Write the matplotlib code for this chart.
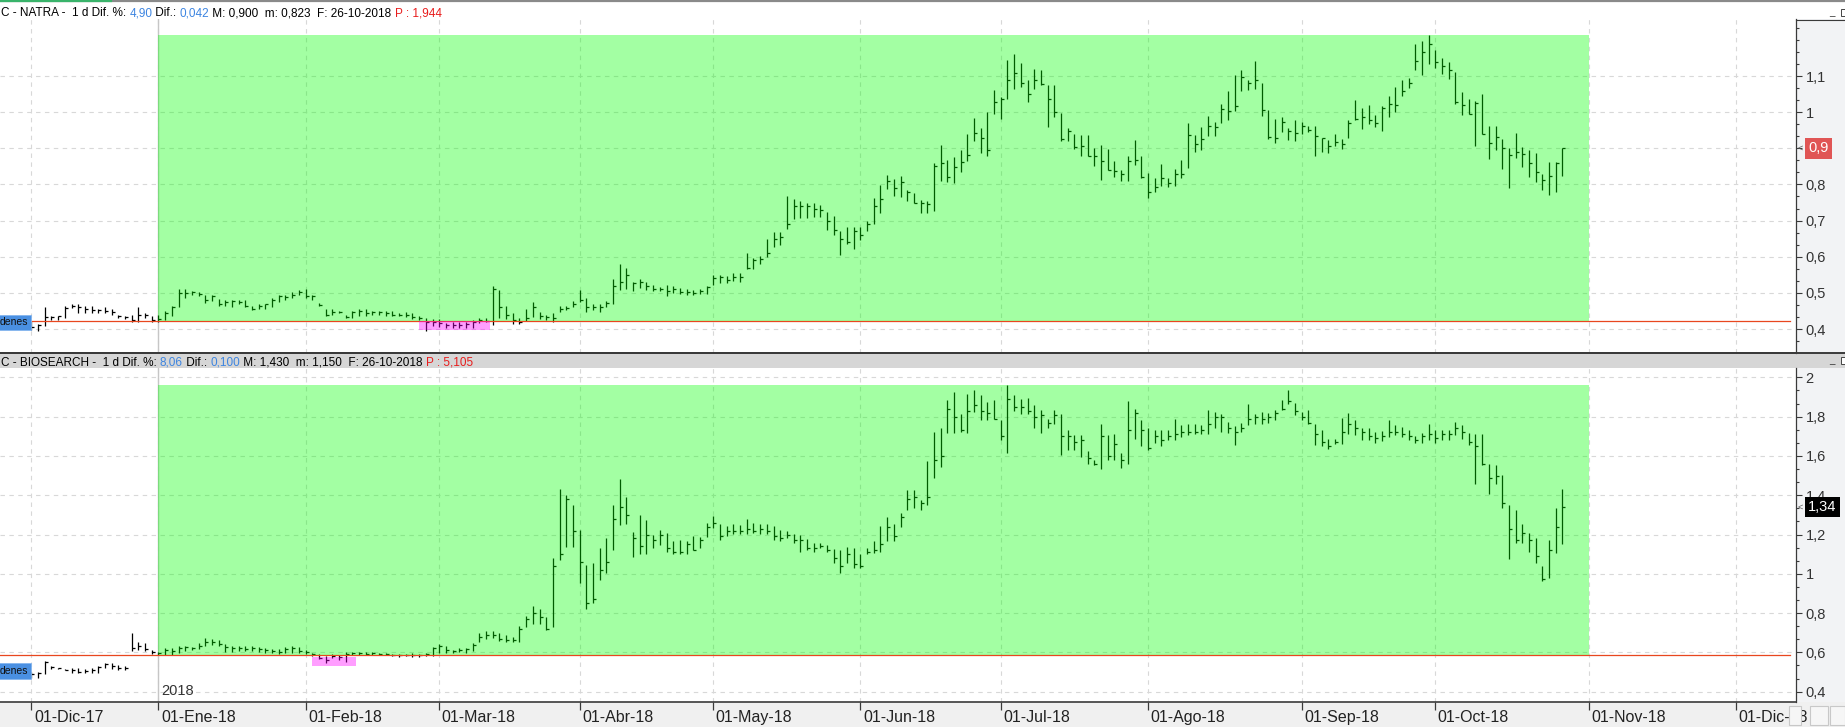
import numpy as np
import pandas as pd
import matplotlib
matplotlib.use("Agg")
import matplotlib.pyplot as plt
import matplotlib.transforms as mtransforms
from matplotlib.patches import Rectangle
from matplotlib.lines import Line2D
from matplotlib.collections import LineCollection
from matplotlib.ticker import FuncFormatter

plt.rcParams["font.family"] = ["Liberation Sans", "DejaVu Sans"]

W, H = 1845, 727

# BME sessions, holidays removed
holidays = ["2017-12-25", "2017-12-26", "2018-01-01", "2018-03-30",
            "2018-04-02", "2018-05-01", "2018-12-25", "2018-12-26"]
sessions = pd.date_range("2017-12-01", "2018-12-31",
                         freq=pd.offsets.CustomBusinessDay(holidays=holidays))

month_abbr = ["Ene", "Feb", "Mar", "Abr", "May", "Jun",
              "Jul", "Ago", "Sep", "Oct", "Nov", "Dic"]

# --- NATRA daily bars (01-12-2017 .. 26-10-2018) ---
natra_high = [
    0.421, 0.414, 0.461, 0.437, 0.437, 0.463, 0.470, 0.468, 0.463, 0.463,
    0.456, 0.461, 0.454, 0.440, 0.437, 0.440, 0.461, 0.444, 0.437, 0.440,
    0.451, 0.465, 0.511, 0.511, 0.506, 0.502, 0.495, 0.495, 0.483, 0.481,
    0.480, 0.480, 0.480, 0.465, 0.470, 0.470, 0.486, 0.495, 0.495, 0.502,
    0.509, 0.511, 0.495, 0.472, 0.454, 0.456, 0.451, 0.440, 0.451, 0.454,
    0.456, 0.449, 0.451, 0.451, 0.451, 0.443, 0.446, 0.443, 0.437, 0.431,
    0.428, 0.428, 0.417, 0.419, 0.419, 0.419, 0.424, 0.431, 0.431, 0.520,
    0.509, 0.463, 0.444, 0.431, 0.456, 0.474, 0.446, 0.439, 0.444, 0.463,
    0.463, 0.477, 0.509, 0.486, 0.470, 0.470, 0.477, 0.539, 0.581, 0.569,
    0.531, 0.539, 0.531, 0.523, 0.517, 0.521, 0.519, 0.514, 0.511, 0.507,
    0.511, 0.520, 0.549, 0.549, 0.548, 0.556, 0.554, 0.611, 0.597, 0.602,
    0.650, 0.669, 0.669, 0.769, 0.759, 0.753, 0.750, 0.750, 0.743, 0.724,
    0.713, 0.671, 0.681, 0.681, 0.683, 0.699, 0.762, 0.799, 0.826, 0.815,
    0.822, 0.786, 0.775, 0.756, 0.755, 0.859, 0.910, 0.869, 0.877, 0.894,
    0.940, 0.984, 0.956, 1.001, 1.060, 1.042, 1.145, 1.162, 1.137, 1.088,
    1.120, 1.118, 1.076, 1.074, 0.997, 0.956, 0.940, 0.937, 0.937, 0.901,
    0.910, 0.898, 0.866, 0.840, 0.880, 0.924, 0.880, 0.831, 0.819, 0.856,
    0.818, 0.844, 0.869, 0.971, 0.937, 0.960, 0.990, 0.972, 1.023, 1.059,
    1.102, 1.118, 1.090, 1.141, 1.081, 1.006, 0.980, 0.986, 0.955, 0.979,
    0.972, 0.963, 0.963, 0.929, 0.924, 0.940, 0.926, 0.979, 1.034, 1.011,
    1.021, 0.991, 1.016, 1.046, 1.071, 1.088, 1.095, 1.190, 1.196, 1.214,
    1.173, 1.151, 1.139, 1.111, 1.056, 1.037, 1.032, 1.051, 0.963, 0.963,
    0.925, 0.900, 0.941, 0.904, 0.895, 0.888, 0.830, 0.861, 0.861, 0.900,
]
natra_low = [
    0.398, 0.394, 0.407, 0.424, 0.424, 0.431, 0.457, 0.444, 0.444, 0.444,
    0.444, 0.444, 0.440, 0.431, 0.428, 0.419, 0.419, 0.431, 0.419, 0.419,
    0.424, 0.437, 0.461, 0.486, 0.494, 0.491, 0.472, 0.477, 0.465, 0.463,
    0.461, 0.468, 0.461, 0.452, 0.456, 0.456, 0.461, 0.474, 0.481, 0.486,
    0.493, 0.486, 0.481, 0.465, 0.437, 0.440, 0.443, 0.431, 0.431, 0.437,
    0.437, 0.440, 0.440, 0.437, 0.437, 0.437, 0.433, 0.428, 0.426, 0.394,
    0.407, 0.406, 0.403, 0.403, 0.403, 0.403, 0.403, 0.417, 0.419, 0.412,
    0.431, 0.428, 0.415, 0.415, 0.421, 0.433, 0.428, 0.426, 0.419, 0.446,
    0.452, 0.460, 0.474, 0.446, 0.452, 0.446, 0.460, 0.468, 0.507, 0.511,
    0.505, 0.514, 0.507, 0.505, 0.505, 0.491, 0.500, 0.498, 0.495, 0.495,
    0.498, 0.498, 0.521, 0.526, 0.526, 0.532, 0.530, 0.565, 0.567, 0.579,
    0.600, 0.628, 0.632, 0.676, 0.704, 0.706, 0.708, 0.711, 0.711, 0.674,
    0.660, 0.606, 0.634, 0.620, 0.646, 0.671, 0.690, 0.720, 0.787, 0.769,
    0.765, 0.755, 0.750, 0.722, 0.722, 0.727, 0.810, 0.808, 0.803, 0.835,
    0.864, 0.921, 0.886, 0.880, 0.994, 0.981, 1.037, 1.065, 1.069, 1.028,
    1.065, 1.074, 0.960, 0.988, 0.919, 0.921, 0.898, 0.879, 0.879, 0.850,
    0.812, 0.840, 0.821, 0.810, 0.810, 0.855, 0.818, 0.762, 0.778, 0.797,
    0.792, 0.795, 0.818, 0.845, 0.889, 0.895, 0.933, 0.933, 0.969, 0.977,
    1.002, 1.058, 1.060, 1.064, 0.989, 0.925, 0.914, 0.944, 0.923, 0.921,
    0.940, 0.945, 0.878, 0.889, 0.887, 0.907, 0.897, 0.928, 0.977, 0.953,
    0.968, 0.960, 0.947, 0.988, 1.000, 1.044, 1.068, 1.118, 1.103, 1.132,
    1.121, 1.106, 1.093, 1.023, 0.991, 0.994, 0.907, 0.940, 0.870, 0.894,
    0.844, 0.789, 0.872, 0.849, 0.821, 0.807, 0.786, 0.772, 0.780, 0.823,
]
natra_close = [
    0.405, 0.410, 0.433, 0.433, 0.435, 0.458, 0.463, 0.462, 0.455, 0.452,
    0.452, 0.450, 0.446, 0.436, 0.434, 0.424, 0.440, 0.440, 0.425, 0.428,
    0.445, 0.460, 0.500, 0.500, 0.502, 0.497, 0.480, 0.490, 0.470, 0.475,
    0.478, 0.476, 0.465, 0.455, 0.465, 0.468, 0.480, 0.490, 0.488, 0.495,
    0.502, 0.490, 0.492, 0.467, 0.440, 0.448, 0.446, 0.433, 0.448, 0.450,
    0.445, 0.446, 0.447, 0.445, 0.440, 0.440, 0.438, 0.432, 0.430, 0.420,
    0.418, 0.417, 0.410, 0.411, 0.412, 0.414, 0.420, 0.425, 0.423, 0.510,
    0.460, 0.440, 0.425, 0.420, 0.430, 0.460, 0.435, 0.432, 0.430, 0.455,
    0.458, 0.470, 0.480, 0.460, 0.460, 0.460, 0.472, 0.520, 0.530, 0.550,
    0.527, 0.530, 0.520, 0.512, 0.510, 0.505, 0.510, 0.503, 0.502, 0.500,
    0.505, 0.515, 0.540, 0.545, 0.535, 0.545, 0.545, 0.570, 0.590, 0.595,
    0.610, 0.650, 0.655, 0.690, 0.740, 0.740, 0.740, 0.733, 0.730, 0.700,
    0.675, 0.650, 0.640, 0.670, 0.660, 0.690, 0.740, 0.760, 0.810, 0.790,
    0.806, 0.778, 0.750, 0.750, 0.747, 0.850, 0.859, 0.820, 0.849, 0.861,
    0.882, 0.942, 0.929, 0.894, 1.028, 1.037, 1.090, 1.108, 1.081, 1.051,
    1.090, 1.079, 1.037, 1.000, 0.926, 0.949, 0.903, 0.905, 0.880, 0.880,
    0.864, 0.840, 0.838, 0.829, 0.866, 0.868, 0.821, 0.778, 0.792, 0.819,
    0.803, 0.829, 0.829, 0.937, 0.912, 0.926, 0.962, 0.960, 1.008, 1.002,
    1.016, 1.097, 1.081, 1.090, 1.005, 0.931, 0.929, 0.972, 0.949, 0.942,
    0.963, 0.951, 0.935, 0.928, 0.905, 0.917, 0.912, 0.969, 0.981, 0.988,
    0.979, 0.969, 1.012, 1.023, 1.021, 1.058, 1.081, 1.142, 1.167, 1.190,
    1.139, 1.127, 1.118, 1.028, 1.019, 0.994, 1.025, 0.940, 0.914, 0.931,
    0.900, 0.881, 0.890, 0.884, 0.858, 0.835, 0.812, 0.823, 0.858, 0.900,
]

# --- BIOSEARCH daily bars ---
bio_high = [
    0.502, 0.502, 0.558, 0.531, 0.522, 0.515, 0.519, 0.519, 0.514, 0.519,
    0.531, 0.544, 0.544, 0.536, 0.531, 0.697, 0.654, 0.646, 0.612, 0.603,
    0.620, 0.620, 0.632, 0.632, 0.629, 0.646, 0.671, 0.666, 0.663, 0.642,
    0.632, 0.632, 0.632, 0.632, 0.629, 0.624, 0.615, 0.615, 0.625, 0.632,
    0.629, 0.612, 0.598, 0.592, 0.581, 0.592, 0.586, 0.603, 0.603, 0.603,
    0.603, 0.603, 0.598, 0.595, 0.592, 0.592, 0.592, 0.595, 0.592, 0.598,
    0.625, 0.642, 0.632, 0.612, 0.620, 0.620, 0.649, 0.697, 0.710, 0.710,
    0.697, 0.688, 0.676, 0.734, 0.785, 0.836, 0.819, 0.781, 1.078, 1.434,
    1.400, 1.349, 1.225, 1.044, 1.053, 1.129, 1.180, 1.349, 1.485, 1.392,
    1.214, 1.298, 1.273, 1.197, 1.222, 1.208, 1.168, 1.171, 1.168, 1.192,
    1.188, 1.259, 1.293, 1.256, 1.242, 1.253, 1.247, 1.281, 1.259, 1.256,
    1.253, 1.242, 1.222, 1.219, 1.202, 1.197, 1.175, 1.158, 1.158, 1.146,
    1.124, 1.120, 1.137, 1.129, 1.100, 1.129, 1.168, 1.242, 1.290, 1.253,
    1.310, 1.429, 1.429, 1.375, 1.575, 1.722, 1.741, 1.886, 1.925, 1.815,
    1.917, 1.937, 1.908, 1.875, 1.883, 1.783, 1.959, 1.908, 1.892, 1.897,
    1.858, 1.836, 1.790, 1.836, 1.815, 1.731, 1.705, 1.705, 1.625, 1.581,
    1.764, 1.705, 1.714, 1.615, 1.880, 1.841, 1.785, 1.741, 1.731, 1.734,
    1.734, 1.790, 1.756, 1.761, 1.761, 1.756, 1.836, 1.824, 1.812, 1.773,
    1.751, 1.768, 1.863, 1.812, 1.824, 1.819, 1.836, 1.886, 1.937, 1.869,
    1.824, 1.832, 1.764, 1.734, 1.688, 1.688, 1.795, 1.819, 1.783, 1.741,
    1.741, 1.722, 1.727, 1.783, 1.756, 1.747, 1.731, 1.700, 1.717, 1.761,
    1.734, 1.734, 1.731, 1.773, 1.756, 1.717, 1.714, 1.710, 1.561, 1.553,
    1.503, 1.350, 1.325, 1.254, 1.206, 1.181, 1.040, 1.172, 1.333, 1.430,
]
bio_low = [
    0.468, 0.468, 0.490, 0.514, 0.514, 0.510, 0.493, 0.493, 0.497, 0.497,
    0.497, 0.519, 0.514, 0.510, 0.510, 0.608, 0.612, 0.608, 0.592, 0.586,
    0.586, 0.586, 0.598, 0.608, 0.612, 0.615, 0.632, 0.637, 0.632, 0.603,
    0.603, 0.607, 0.607, 0.607, 0.603, 0.598, 0.595, 0.592, 0.598, 0.598,
    0.595, 0.592, 0.581, 0.564, 0.544, 0.569, 0.561, 0.553, 0.586, 0.586,
    0.586, 0.586, 0.586, 0.586, 0.581, 0.578, 0.581, 0.578, 0.575, 0.581,
    0.581, 0.598, 0.598, 0.598, 0.603, 0.598, 0.608, 0.654, 0.666, 0.671,
    0.659, 0.654, 0.654, 0.654, 0.731, 0.744, 0.747, 0.714, 0.731, 1.069,
    1.137, 1.137, 0.951, 0.819, 0.849, 0.968, 1.002, 1.120, 1.247, 1.256,
    1.083, 1.103, 1.100, 1.129, 1.146, 1.112, 1.100, 1.103, 1.103, 1.120,
    1.129, 1.188, 1.231, 1.171, 1.192, 1.202, 1.205, 1.202, 1.208, 1.205,
    1.202, 1.171, 1.168, 1.180, 1.158, 1.112, 1.120, 1.112, 1.129, 1.112,
    1.053, 1.005, 1.053, 1.027, 1.032, 1.103, 1.107, 1.112, 1.168, 1.168,
    1.239, 1.324, 1.337, 1.324, 1.349, 1.490, 1.544, 1.717, 1.717, 1.722,
    1.717, 1.824, 1.785, 1.785, 1.790, 1.681, 1.615, 1.829, 1.815, 1.815,
    1.741, 1.717, 1.741, 1.764, 1.603, 1.632, 1.632, 1.595, 1.561, 1.553,
    1.531, 1.578, 1.581, 1.541, 1.558, 1.688, 1.649, 1.632, 1.666, 1.649,
    1.681, 1.681, 1.698, 1.705, 1.710, 1.714, 1.714, 1.744, 1.722, 1.717,
    1.654, 1.722, 1.756, 1.761, 1.764, 1.768, 1.783, 1.832, 1.866, 1.807,
    1.785, 1.761, 1.654, 1.649, 1.637, 1.659, 1.659, 1.714, 1.705, 1.681,
    1.681, 1.666, 1.676, 1.698, 1.705, 1.698, 1.681, 1.666, 1.666, 1.681,
    1.666, 1.681, 1.683, 1.705, 1.688, 1.654, 1.459, 1.553, 1.408, 1.459,
    1.333, 1.074, 1.155, 1.159, 1.113, 1.053, 0.965, 0.977, 1.108, 1.150,
]
bio_close = [
    0.490, 0.495, 0.550, 0.525, 0.520, 0.512, 0.510, 0.500, 0.505, 0.510,
    0.525, 0.540, 0.530, 0.520, 0.520, 0.620, 0.630, 0.615, 0.600, 0.595,
    0.610, 0.605, 0.620, 0.625, 0.620, 0.635, 0.655, 0.655, 0.645, 0.625,
    0.620, 0.620, 0.615, 0.620, 0.615, 0.610, 0.605, 0.600, 0.615, 0.620,
    0.605, 0.600, 0.590, 0.570, 0.560, 0.580, 0.575, 0.590, 0.595, 0.595,
    0.590, 0.595, 0.590, 0.590, 0.585, 0.585, 0.588, 0.585, 0.585, 0.590,
    0.620, 0.630, 0.610, 0.605, 0.610, 0.615, 0.640, 0.680, 0.690, 0.690,
    0.670, 0.665, 0.665, 0.720, 0.770, 0.800, 0.780, 0.720, 1.040, 1.100,
    1.380, 1.220, 1.060, 0.850, 0.870, 1.020, 1.060, 1.280, 1.340, 1.300,
    1.180, 1.140, 1.200, 1.170, 1.200, 1.130, 1.110, 1.110, 1.150, 1.120,
    1.170, 1.240, 1.260, 1.190, 1.220, 1.220, 1.220, 1.230, 1.220, 1.230,
    1.220, 1.190, 1.180, 1.200, 1.170, 1.170, 1.130, 1.130, 1.140, 1.120,
    1.080, 1.040, 1.100, 1.050, 1.040, 1.110, 1.120, 1.150, 1.240, 1.190,
    1.290, 1.380, 1.390, 1.360, 1.390, 1.580, 1.600, 1.840, 1.800, 1.730,
    1.830, 1.860, 1.830, 1.820, 1.790, 1.700, 1.890, 1.850, 1.850, 1.830,
    1.800, 1.810, 1.770, 1.810, 1.700, 1.700, 1.670, 1.680, 1.590, 1.560,
    1.700, 1.600, 1.660, 1.580, 1.730, 1.820, 1.730, 1.640, 1.700, 1.680,
    1.700, 1.710, 1.720, 1.720, 1.720, 1.730, 1.760, 1.800, 1.800, 1.740,
    1.720, 1.740, 1.790, 1.800, 1.790, 1.800, 1.820, 1.840, 1.880, 1.830,
    1.800, 1.770, 1.710, 1.670, 1.650, 1.670, 1.720, 1.760, 1.740, 1.720,
    1.700, 1.690, 1.700, 1.720, 1.720, 1.710, 1.700, 1.680, 1.700, 1.710,
    1.690, 1.710, 1.710, 1.740, 1.720, 1.670, 1.650, 1.560, 1.490, 1.500,
    1.360, 1.230, 1.170, 1.210, 1.170, 1.090, 0.975, 1.120, 1.240, 1.340,
]

# support lines / marker zones
natra_support = 0.421
bio_support = 0.585
natra_zone = ("2018-02-26", "2018-03-12", 0.397, 0.421)
bio_zone = ("2018-02-02", "2018-02-12", 0.531, 0.575)
natra_last, bio_last = 0.9, 1.34

natra_header = [("C - NATRA -  1 d Dif. %: ", "black"), ("4,90", "#3d85e1"),
                (" Dif.: ", "black"), ("0,042", "#3d85e1"),
                (" M: 0,900  m: 0,823  F: 26-10-2018 ", "black"), ("P : 1,944", "#e81c1c")]
bio_header = [("C - BIOSEARCH -  1 d Dif. %: ", "black"), ("8,06", "#3d85e1"),
              (" Dif.: ", "black"), ("0,100", "#3d85e1"),
              (" M: 1,430  m: 1,150  F: 26-10-2018 ", "black"), ("P : 5,105", "#e81c1c")]

natra_yticks = [0.4, 0.5, 0.6, 0.7, 0.8, 0.9, 1.0, 1.1]
bio_yticks = [0.4, 0.6, 0.8, 1.0, 1.2, 1.4, 1.6, 1.8, 2.0]

pos = pd.Series(np.arange(len(sessions)), index=sessions)
month_first = pos.groupby([sessions.year, sessions.month]).first()
month_pos = month_first.values
month_labels = [f"01-{month_abbr[m - 1]}-{y % 100:02d}" for (y, m) in month_first.index]
pos_2018 = pos["2018-01-02"]
green_end = pos["2018-11-01"]

fig = plt.figure(figsize=(W / 100, H / 100), dpi=100, facecolor="white")


def fx(px):
    return px / W


def fy(py):
    return 1 - py / H


AX_R = 1795.7
XLIM = (-4.7, 263.9)

# frame pieces around the panels
fig.patches.append(Rectangle((fx(AX_R), 0), 1 - fx(AX_R), fy(19), transform=fig.transFigure,
                             fc="#f2f3f5", ec="none", zorder=-2))
fig.patches.append(Rectangle((0, fy(368.3)), 1, (368.3 - 353) / H, transform=fig.transFigure,
                             fc="#d6d6d6", ec="none", zorder=-1))
fig.patches.append(Rectangle((0, 0), 1, fy(701.7), transform=fig.transFigure,
                             fc="#f0f0f0", ec="none", zorder=-1))
fig.lines.append(Line2D([0, 1], [fy(1.2), fy(1.2)], transform=fig.transFigure, color="#8a8a8a", lw=1.6))
fig.lines.append(Line2D([0, fx(111)], [fy(1.2), fy(1.2)], transform=fig.transFigure, color="#39b36a", lw=1.6))
fig.lines.append(Line2D([0, 1], [fy(353.5), fy(353.5)], transform=fig.transFigure, color="#3a3a3a", lw=1.4))
fig.lines.append(Line2D([fx(AX_R), 1], [fy(19.5), fy(19.5)], transform=fig.transFigure, color="#3a3a3a", lw=0.8))


def yfmt(v, p):
    return f"{round(v, 3):g}".replace(".", ",")


def draw_panel(ax, high, low, close, support, zone, ylim, yticks, minor_step):
    x = np.arange(len(high))
    ax.set_facecolor("white")

    ax.set_xticks(month_pos)
    ax.set_yticks(yticks)
    minors = np.arange(yticks[0] - 3 * minor_step, ylim[1], minor_step)
    ax.set_yticks(minors[minors > ylim[0]], minor=True)
    # ticks can widen the view, so fix the limits afterwards
    ax.set_xlim(*XLIM)
    ax.set_ylim(*ylim)
    ax.grid(True, which="major", linestyle=(0, (4, 4)), color="#d8d8d8", lw=0.8)
    ax.set_axisbelow(True)
    ax.axvline(pos_2018, color="#c6c6c6", lw=1.0, zorder=1.5)

    segs = [[(xi, lo), (xi, hi)] for xi, lo, hi in zip(x, low, high)]
    segs += [[(xi, c), (xi + 0.45, c)] for xi, c in zip(x, close)]
    ax.add_collection(LineCollection(segs, colors="black", linewidths=0.9, zorder=3))

    ax.axhline(support, 0, 0.997, color="#e8471f", lw=0.9, zorder=3.5)

    # green study box (translucent, on top of the bars)
    ax.add_patch(Rectangle((pos_2018, support), green_end - pos_2018, max(high) - support,
                           fc="#00ff00", alpha=0.36, ec="none", zorder=4))
    z0, z1 = pos[zone[0]], pos[zone[1]] + 0.6
    ax.add_patch(Rectangle((z0, zone[2]), z1 - z0, zone[3] - zone[2],
                           fc="#ff00ff", alpha=0.38, ec="none", zorder=4))

    ax.yaxis.tick_right()
    ax.yaxis.set_major_formatter(FuncFormatter(yfmt))
    ax.tick_params(axis="y", which="major", direction="out", length=4.3, width=0.8,
                   color="#3a3a3a", pad=2.8, labelsize=10.5, labelcolor="#333333")
    ax.tick_params(axis="y", which="minor", direction="out", length=2.2, width=0.8, color="#3a3a3a")
    for s in ["left", "top"]:
        ax.spines[s].set_visible(False)
    ax.spines["right"].set_color("#3a3a3a")
    ax.spines["right"].set_linewidth(0.9)
    ax.spines["bottom"].set_color("#3a3a3a")
    ax.spines["bottom"].set_linewidth(1.2)


ax1 = fig.add_axes([0, fy(353), fx(AX_R), (353 - 19) / H])
ax2 = fig.add_axes([0, fy(701.7), fx(AX_R), (701.7 - 368.3) / H])

draw_panel(ax1, natra_high, natra_low, natra_close, natra_support, natra_zone,
           (0.3336, 1.2578), natra_yticks, 0.1 / 3)
draw_panel(ax2, bio_high, bio_low, bio_close, bio_support, bio_zone,
           (0.349, 2.046), bio_yticks, 0.2 / 3)

ax1.tick_params(axis="x", length=0, labelbottom=False)
ax2.set_xticks(month_pos, month_labels)
ax2.set_xlim(*XLIM)
ax2.tick_params(axis="x", direction="out", length=5.8, width=0.9, color="#3a3a3a",
                pad=0.5, labelsize=11.5, labelcolor="#222222")
shift = mtransforms.ScaledTranslation(2.5 / 100, 0, fig.dpi_scale_trans)
for lab in ax2.get_xticklabels():
    lab.set_horizontalalignment("left")
    lab.set_transform(lab.get_transform() + shift)

# truncated order labels on the left
for ax, lvl in [(ax1, 0.418), (ax2, 0.505)]:
    ax.text(28 / AX_R, lvl, "denes", transform=ax.get_yaxis_transform(), ha="right", va="center",
            fontsize=7.5, color="#111111", zorder=6,
            bbox=dict(boxstyle="square,pad=0.25", fc="#4a90e2", ec="#86b6ee", lw=0.6))
ax2.text(pos_2018 + 0.35, 0.406, "2018", ha="left", va="center", fontsize=10.5, color="#333333")

# last price tags on the price scale
for ax, val, fc in [(ax1, natra_last, "#e05555"), (ax2, bio_last, "black")]:
    ax.text(1808 / AX_R, val, yfmt(val, None), transform=ax.get_yaxis_transform(),
            ha="left", va="center", fontsize=10.5, color="white", clip_on=False, zorder=10,
            bbox=dict(boxstyle="square,pad=0.22", fc=fc, ec="none"))
    ax.text(1797.5 / AX_R, val, "<", transform=ax.get_yaxis_transform(), ha="left", va="center",
            fontsize=6.5, color="#555555", clip_on=False, zorder=10)


def header(y_base, parts):
    t = fig.text(fx(1), fy(y_base), parts[0][0], color=parts[0][1], fontsize=8.5, va="baseline")
    for s, c in parts[1:]:
        t = ax1.annotate(s, xy=(1, 0), xycoords=t, va="bottom", ha="left", color=c, fontsize=8.5)


header(16.5, natra_header)
header(365.5, bio_header)

# small window buttons
for yb in (9, 357):
    fig.text(fx(1829), fy(yb + 6), "_", fontsize=7, color="#333333", va="baseline")
    fig.patches.append(Rectangle((fx(1841), fy(yb + 7)), fx(6), 7 / H, transform=fig.transFigure,
                                 fc="white", ec="#444444", lw=0.7, zorder=5))
for xb, wb in [(1789, 12), (1810, 18), (1830, 15)]:
    fig.patches.append(Rectangle((fx(xb), fy(725)), fx(wb), 19 / H, transform=fig.transFigure,
                                 fc="#f6f6f6", ec="#c8c8c8", lw=0.8, zorder=5))

fig.savefig("out.png", dpi=100, facecolor="white")
